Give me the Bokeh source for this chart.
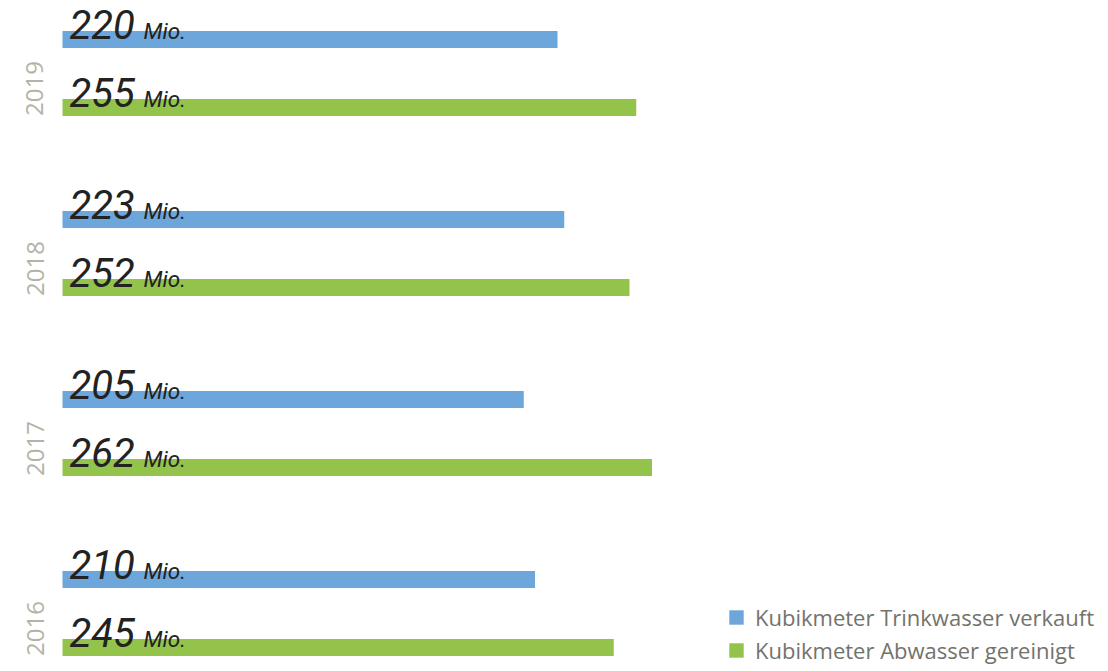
import math
from bokeh.plotting import figure
from bokeh.models import ColumnDataSource, FactorRange, Range1d, LabelSet, Legend, LegendItem
from bokeh.transform import dodge
from bokeh.core.properties import value
from bokeh.embed import file_html
from bokeh.resources import INLINE

# ---- data ----
years = ["2016", "2017", "2018", "2019"]
trinkwasser = [210, 205, 223, 220]   # Mio. m³ Trinkwasser verkauft
abwasser = [245, 262, 252, 255]      # Mio. m³ Abwasser gereinigt
series_labels = ["Kubikmeter Trinkwasser verkauft", "Kubikmeter Abwasser gereinigt"]
unit_label = "Mio."

BLUE = "#6ca6da"
GREEN = "#93c34a"
FONT = "Open Sans"
NUM_FONT = "Roboto"

src = ColumnDataSource(dict(
    year=years,
    trink=trinkwasser, abw=abwasser,
    trink_txt=[str(v) for v in trinkwasser],
    abw_txt=[str(v) for v in abwasser],
    unit=[unit_label] * len(years)))

p = figure(width=1108, height=671,
           y_range=FactorRange(*years, range_padding=-0.1361, range_padding_units="absolute"),
           x_range=Range1d(-27.56, 464.89),
           output_backend="svg", toolbar_location=None,
           x_axis_location=None, y_axis_location=None,
           min_border_left=0, min_border_right=0, min_border_top=0, min_border_bottom=0,
           outline_line_color=None)
p.grid.visible = False

OFF_T = 0.1472
OFF_A = -0.2306
y_t = dodge("year", OFF_T, range=p.y_range)
y_a = dodge("year", OFF_A, range=p.y_range)

r_t = p.hbar(y=y_t, left=0, right="trink", height=0.0944, source=src,
             fill_color=BLUE, line_color=None)
r_a = p.hbar(y=y_a, left=0, right="abw", height=0.0944, source=src,
             fill_color=GREEN, line_color=None)

for yspec, col in ((y_t, "trink_txt"), (y_a, "abw_txt")):
    p.add_layout(LabelSet(x=0, y=yspec, text=col, source=src, x_offset=7, y_offset=1,
                          text_font=value(NUM_FONT), text_font_style="italic",
                          text_font_size="40px", text_color="#222222",
                          text_baseline="alphabetic", text_align="left"))
    p.add_layout(LabelSet(x=0, y=yspec, text="unit", source=src, x_offset=81, y_offset=1,
                          text_font=value(NUM_FONT), text_font_style="italic",
                          text_font_size="22.5px", text_color="#222222",
                          text_baseline="alphabetic", text_align="left"))

p.add_layout(LabelSet(x=0, y=y_a, text="year", source=src, x_offset=-19, y_offset=-8.5,
                      angle=math.pi / 2, text_font=value(FONT),
                      text_font_size="24px", text_color="#b4b4a6",
                      text_baseline="alphabetic", text_align="left"))

legend = Legend(items=[LegendItem(label=series_labels[0], renderers=[r_t]),
                       LegendItem(label=series_labels[1], renderers=[r_a])],
                location=(727, 6), padding=0, margin=0, spacing=3,
                glyph_width=18, glyph_height=18, label_standoff=10, label_height=18,
                label_text_font=FONT, label_text_font_size="22px",
                label_text_color="#73736b",
                border_line_color=None, background_fill_alpha=0)
p.add_layout(legend)

open("out.html", "w").write(file_html(p, INLINE))
